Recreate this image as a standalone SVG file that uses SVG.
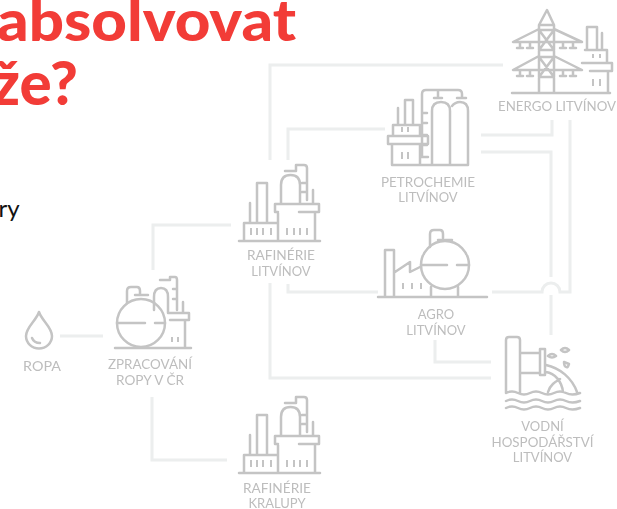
<svg xmlns="http://www.w3.org/2000/svg" xmlns:xlink="http://www.w3.org/1999/xlink" width="617" height="509" viewBox="0 0 617 509">
<style>
.c{fill:none;stroke:#eceeee;stroke-width:3;filter:url(#soft)}
.i{fill:none;stroke:#c4c4c4;stroke-width:2.500;stroke-linejoin:round;stroke-linecap:round;filter:url(#soft)}
.w{fill:none;stroke:#c4c4c4;stroke-width:2;stroke-linecap:butt;filter:url(#soft)}
.l{font-family:"Lato","Liberation Sans",sans-serif;font-size:13px;fill:#bdbdbd;text-anchor:middle;filter:url(#soft)}
.t{font-family:"Lato","Liberation Sans",sans-serif;font-weight:900;fill:#f23c37}
</style>
<defs>
<filter id="soft" filterUnits="userSpaceOnUse" x="-300" y="-300" width="1200" height="1200"><feGaussianBlur stdDeviation="0.350"/></filter>
<g id="refinery">
<path class="i" d="M239 241H320M244 241V223H277M278 241V213M315 241V213M257 222V183H267V222M250 222V203M281 203V185Q281 175 290.500 175Q300 175 300 185V203M285 171H296V165H304Q307 165 307 168V200M302 183H307M302 192H307M313 203V190M299 212H315M278 212H275V204H319V212H315"/>
<path class="w" d="M251 228V235M257 228V235M263 228V235M271 228V235M287 228V235M294 228V235M300 228V235M307 228V235"/>
</g>
</defs>
<rect width="617" height="509" fill="#fff"/>
<g id="title">
<text class="t" x="-3" y="41" font-size="57" textLength="299" lengthAdjust="spacingAndGlyphs">absolvovat</text>
<text class="t" x="78" y="105" font-size="60" text-anchor="end">že?</text>
<text x="19.500" y="217" text-anchor="end" font-family="Lato,'Liberation Sans',sans-serif" font-size="24" fill="#111">ry</text>
</g>
<g id="connectors">
<path class="c" d="M60 336H103"/>
<path class="c" d="M153 270V225H231"/>
<path class="c" d="M152 397V460H227"/>
<path class="c" d="M270 160V65H503"/>
<path class="c" d="M288 160V129H385"/>
<path class="c" d="M270 283V378H491"/>
<path class="c" d="M288 284V292H378"/>
<path class="c" d="M492 292H542A9 9 0 0 1 560 292H570V120"/>
<path class="c" d="M481 135H552V120"/>
<path class="c" d="M481 152H551V277M551 295V335"/>
<path class="c" d="M435 340V362H491"/>
</g>
<g id="node-ropa">
<path class="i" d="M39 312C36 321 26 327 26 336A13 12.500 0 0 0 52 336C52 327 42 321 39 312ZM32 338Q34 343 40 343"/>
<text class="l" x="42" y="371" textLength="38" lengthAdjust="spacingAndGlyphs">ROPA</text>
</g>
<g id="node-zpracovani">
<circle class="i" cx="141" cy="323" r="24"/>
<path class="i" d="M115 348H191M117 323H145M155 323H165M127 303V291Q127 287 131 287H137Q140 287 140 291V294M135 295H148M154 310V297Q154 288 161 288Q168 288 168 297V313M160 280H170V277H175Q177 277 177 280V310M173 289H177M173 299H177M183 313V302M168 313H189V320H185V348M170 320H186"/>
<path class="w" d="M172 337V342M178 337V342"/>
<text class="l" x="150" y="369" textLength="84" lengthAdjust="spacingAndGlyphs">ZPRACOVÁNÍ</text>
<text class="l" x="150" y="385" textLength="68" lengthAdjust="spacingAndGlyphs">ROPY V ČR</text>
</g>
<g id="node-rafinerie-litvinov">
<use href="#refinery"/>
<text class="l" x="281" y="260" textLength="68" lengthAdjust="spacingAndGlyphs">RAFINÉRIE</text>
<text class="l" x="281" y="276">LITVÍNOV</text>
</g>
<g id="node-rafinerie-kralupy">
<use href="#refinery" y="232"/>
<text class="l" x="277" y="493" textLength="68" lengthAdjust="spacingAndGlyphs">RAFINÉRIE</text>
<text class="l" x="277" y="508">KRALUPY</text>
</g>
<g id="node-petrochemie">
<path class="i" d="M392 144V165H468M420 144V165M393 136V125H420V136M388 136H428V144H388ZM405 125V100H413V125M398 125V108M422 157V94Q422 90 426 90H458Q462 90 462 94V97M422 113H427M422 123H427M422 135H427M422 145H427M422 157H428M438 90V98M434 98H442M457 98H466M432 165V111Q432 102 441 102Q450 102 450 111V165M452 106Q455 102 460 102Q468 102 468 111V165"/>
<path class="w" d="M402 127V132M408 127V132M402 152V159M408 152V159"/>
<text class="l" x="428" y="187" textLength="94" lengthAdjust="spacingAndGlyphs">PETROCHEMIE</text>
<text class="l" x="428" y="202">LITVÍNOV</text>
</g>
<g id="node-energo">
<path class="i" d="M512 93H610M539 92V25L547 10L554 25V92M539 25H554M539 30H554V50H539ZM539 30L554 50M554 30L539 50M539 57H554V77H539ZM539 57L554 77M554 57L539 77M539 29L513 42H582L554 29M539 56L513 70H582L554 56M520 42V48M530 42V48M563 42V48M573 42V48M517 48H523M527 48H533M560 48H566M570 48H576M520 70V76M530 70V76M563 70V76M573 70V76M517 76H523M527 76H533M560 76H566M570 76H576M587 50V27H597V50M602 50V33M585 50H607V63M582 63H612V71H590M608 71V92"/>
<path class="w" d="M593 54V58M600 54V58M593 79V86M600 79V86"/>
<text class="l" x="557" y="111" textLength="118" lengthAdjust="spacingAndGlyphs">ENERGO LITVÍNOV</text>
</g>
<g id="node-agro">
<circle class="i" cx="445" cy="265" r="24"/>
<path class="i" d="M378 297H487M385 297V250H394V297M395 272L410 262V272L420 267M421 265H447M457 265H469M431 287V297M458 287V297M430 247V234Q430 230 434 230H440Q443 230 443 234V238M438 240H452"/>
<path class="w" d="M403 283V289M412 283V289M421 283V289"/>
<text class="l" x="436" y="319">AGRO</text>
<text class="l" x="436" y="335">LITVÍNOV</text>
</g>
<g id="node-vodni">
<path class="i" d="M506 393V340Q506 337 509 337H517Q520 337 520 340V393M520 353H540M520 373H540M540 349H545V375H540ZM546 365C560 368 572 378 577 392M546 372C555 373 562 382 563 392M548 392C550 385 555 382 560 379M506 393Q512 390 518 393T530 393T542 393T554 393T566 393T580 393M506 401Q512 398 518 401T530 401T542 401T554 401T566 401T580 401M506 408Q512 405 518 408T530 408T542 408T554 408T566 408T580 408M548 356Q552 352 556 356Q552 359 548 356ZM561 350Q565 346 569 350Q565 354 561 350ZM564 362L569 364Q568 368 566 367Q564 366 564 362Z"/>
<text class="l" x="542.500" y="431">VODNÍ</text>
<text class="l" x="542.500" y="447" textLength="102" lengthAdjust="spacingAndGlyphs">HOSPODÁŘSTVÍ</text>
<text class="l" x="542.500" y="462">LITVÍNOV</text>
</g>
</svg>
